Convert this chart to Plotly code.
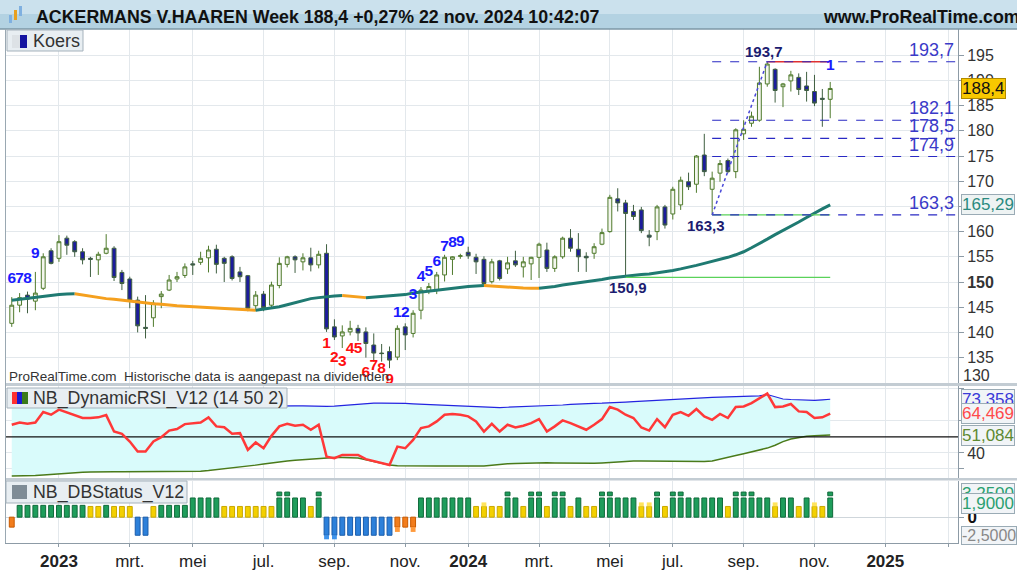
import pandas as pd
import plotly.graph_objects as go

W, H = 1017, 570
def px(x): return x / W
def py(y): return 1 - y / H

FIRST_WEEK = "2022-11-21"
X_RANGE = ["2022-11-15", "2025-03-11 16:00"]

opens = [141.8, 145.4, 147.4, 146.2, 148.75, 156.2, 154.7, 158.7, 158.0, 156.0,
         154.7, 154.4, 155.7, 156.7, 151.9, 150.6, 146.4, 141.0, 142.9, 147.1,
         148.4, 150.6, 151.3, 153.6, 153.9, 154.8, 156.5, 154.7, 155.0, 152.0,
         151.25, 145.3, 147.6, 145.4, 149.3, 153.5, 155.0, 154.0, 154.8, 153.4,
         155.7, 141.1, 139.3, 140.1, 140.8, 140.1, 137.5, 135.9, 136.2, 135.1,
         141.1, 139.8, 144.4, 148.3, 148.5, 151.4, 154.5, 155.1, 155.9, 154.9,
         154.5, 150.06, 154.2, 152.6, 154.2, 153.0, 153.6, 154.9, 156.35, 152.7,
         155.0, 158.7, 156.5, 155.1, 155.7, 157.5, 160.0, 166.5, 165.7, 164.0,
         164.3, 159.3, 160.0, 164.9, 163.5, 165.3, 169.9, 169.4, 175.2, 168.4,
         171.6, 174.1, 171.9, 179.4, 181.5, 182.1, 189.3, 192.2, 188.75, 189.9,
         190.6, 188.9, 187.8, 186.45, 186.25]
highs = [147.0, 147.8, 148.1, 152.0, 155.7, 156.7, 159.3, 159.2, 158.3, 156.7,
         155.0, 156.0, 159.5, 157.1, 152.4, 151.05, 147.1, 147.4, 146.4, 148.2,
         151.4, 152.0, 153.7, 154.2, 156.0, 157.2, 157.4, 155.0, 155.3, 153.0,
         151.4, 148.2, 148.2, 150.06, 154.9, 155.2, 155.3, 155.7, 156.8, 156.2,
         157.5, 142.6, 141.4, 142.3, 141.5, 141.0, 139.8, 137.7, 137.2, 141.4,
         141.8, 144.4, 149.0, 149.8, 152.0, 155.4, 155.1, 155.6, 157.0, 155.6,
         155.1, 154.6, 154.4, 155.0, 156.2, 155.0, 155.0, 157.8, 157.8, 155.3,
         159.0, 160.5, 159.7, 155.9, 157.7, 160.6, 167.3, 168.6, 166.3, 165.3,
         164.9, 160.3, 165.3, 165.3, 168.9, 170.9, 171.7, 175.2, 179.4, 171.9,
         174.2, 174.5, 180.5, 182.1, 183.8, 192.7, 193.7, 192.4, 189.5, 191.9,
         191.4, 191.7, 191.1, 188.3, 189.7]
lows = [141.1, 144.0, 143.8, 144.4, 148.4, 153.5, 154.0, 155.4, 155.0, 153.5,
        151.0, 151.4, 155.5, 150.2, 148.4, 144.8, 140.0, 138.8, 141.1, 144.8,
        148.2, 150.0, 150.8, 151.4, 153.4, 151.9, 151.7, 150.0, 150.3, 150.0,
        144.2, 144.2, 144.2, 144.8, 148.75, 152.9, 151.8, 152.3, 152.1, 152.7,
        140.1, 138.5, 136.9, 139.4, 138.3, 135.0, 134.2, 134.2, 132.9, 134.5,
        136.5, 139.0, 142.6, 147.6, 147.6, 150.1, 151.4, 154.6, 154.6, 151.6,
        149.4, 149.7, 150.3, 151.6, 153.0, 150.9, 150.4, 150.8, 152.0, 152.0,
        154.6, 156.0, 152.0, 152.0, 154.6, 157.3, 159.8, 164.0, 150.9, 162.3,
        159.7, 157.1, 158.3, 160.6, 162.4, 164.3, 168.25, 167.7, 171.0, 163.3,
        169.9, 171.6, 170.6, 178.2, 180.8, 181.8, 188.75, 185.6, 184.7, 187.8,
        187.1, 185.8, 184.9, 180.8, 182.5]
closes = [145.4, 146.9, 146.6, 147.8, 155.0, 153.7, 158.0, 157.3, 156.0, 154.4,
          154.5, 155.5, 156.7, 150.9, 149.7, 146.4, 141.3, 140.8, 145.8, 147.6,
          150.4, 151.05, 153.0, 153.4, 154.7, 156.35, 153.5, 153.7, 150.7, 151.05,
          144.8, 147.4, 144.9, 149.4, 153.7, 155.0, 154.4, 154.8, 153.4, 155.5,
          140.7, 139.1, 140.1, 140.8, 139.9, 137.8, 135.9, 135.8, 134.5, 140.8,
          139.5, 143.8, 148.4, 149.1, 151.4, 154.9, 155.0, 155.2, 155.2, 154.0,
          149.7, 154.0, 150.7, 153.8, 153.4, 154.0, 154.9, 157.5, 152.7, 155.0,
          158.7, 156.7, 155.0, 154.8, 157.0, 159.8, 166.8, 165.7, 163.6, 163.0,
          160.2, 158.9, 164.9, 161.3, 168.4, 170.2, 168.9, 175.0, 171.9, 170.6,
          173.5, 171.9, 180.2, 180.3, 182.9, 189.5, 193.25, 188.0, 189.3, 191.1,
          188.2, 188.0, 185.5, 186.25, 188.4]
ma = [146.4, 146.6, 146.8, 147.0, 147.2, 147.35, 147.5, 147.6, 147.65, 147.4,
      147.1, 146.9, 146.7, 146.6, 146.4, 146.2, 146.0, 145.9, 145.7, 145.6,
      145.4, 145.3, 145.2, 145.1, 145.0, 144.9, 144.8, 144.7, 144.6, 144.5,
      144.4, 144.4, 144.6, 144.8, 145.1, 145.5, 145.9, 146.3, 146.7, 146.9,
      147.1, 147.2, 147.3, 147.2, 147.0, 146.9, 147.0, 147.1, 147.2, 147.3,
      147.5, 147.8, 148.0, 148.2, 148.4, 148.6, 148.75, 148.9, 149.1, 149.2,
      149.3, 149.2, 149.0, 148.9, 148.8, 148.8, 148.75, 148.75, 148.9, 149.1,
      149.4, 149.6, 149.8, 150.0, 150.2, 150.5, 150.8, 151.0, 151.2, 151.4,
      151.5, 151.6, 151.8, 152.0, 152.3, 152.6, 152.9, 153.3, 153.7, 154.1,
      154.4, 154.9, 155.4, 156.0, 156.8, 157.6, 158.5, 159.4, 160.2, 161.0,
      161.9, 162.8, 163.7, 164.5, 165.3]

rsi = [57.5, 58.9, 58.1, 58.9, 65.4, 63.75, 66.9, 65.2, 63.75, 61.7,
       61.7, 62.1, 63.5, 53.3, 51.9, 47.1, 40.8, 40.8, 47.1, 49.8,
       53.9, 54.8, 57.9, 58.5, 58.9, 62.1, 56.5, 56.0, 51.9, 52.3,
       41.9, 46.5, 42.9, 50.6, 56.5, 58.1, 56.9, 57.5, 54.4, 57.5,
       37.7, 36.7, 38.75, 38.75, 38.75, 36.1, 35.0, 33.9, 32.5, 43.9,
       42.9, 48.1, 55.4, 56.5, 59.6, 63.75, 64.2, 63.75, 62.7, 59.6,
       53.3, 58.1, 53.3, 57.5, 55.8, 56.9, 58.5, 61.0, 53.3, 56.5,
       60.2, 58.5, 56.5, 54.4, 57.5, 61.0, 68.5, 66.9, 63.75, 61.7,
       55.8, 53.9, 61.0, 56.0, 63.75, 65.4, 63.1, 67.3, 62.7, 60.6,
       64.2, 61.7, 68.5, 68.9, 71.0, 74.2, 76.9, 68.5, 68.9, 70.4,
       65.8, 65.4, 61.7, 62.1, 64.47]
rsi_upper = [68.8, 68.8, 68.9, 68.9, 69.0, 69.0, 69.1, 69.1, 69.0, 69.0,
             68.9, 68.9, 68.8, 68.8, 68.7, 68.7, 68.6, 68.6, 68.6, 68.6,
             68.6, 68.6, 68.7, 68.7, 68.8, 68.8, 68.9, 68.9, 69.0, 69.0,
             69.1, 69.2, 69.3, 69.3, 69.4, 69.4, 69.3, 69.2, 69.0, 68.9,
             68.9, 69.1, 69.5, 70.0, 70.5, 70.8, 71.0, 71.0, 71.0, 71.0,
             70.8, 70.5, 70.3, 70.0, 69.8, 69.6, 69.4, 69.2, 69.0, 68.6,
             68.3, 68.1, 68.2, 68.4, 68.6, 68.8, 68.9, 68.9, 69.2, 69.5,
             69.8, 70.2, 70.5, 70.7, 70.8, 70.9, 71.0, 71.3, 71.6, 71.9,
             72.2, 72.4, 72.5, 72.7, 73.0, 73.3, 73.7, 74.2, 74.4, 74.5,
             74.7, 74.8, 75.0, 75.2, 75.3, 75.5, 76.3, 75.0, 73.5, 73.2,
             73.0, 72.9, 72.7, 73.0, 73.36]
rsi_lower = [25.6, 25.6, 25.7, 25.9, 26.3, 26.7, 27.0, 27.3, 27.6, 27.9,
             28.1, 28.3, 28.3, 28.3, 28.3, 28.3, 28.3, 28.3, 28.3, 28.3,
             28.3, 28.3, 28.3, 28.4, 28.6, 29.0, 29.5, 30.0, 30.5, 31.1,
             31.7, 32.4, 33.1, 33.8, 34.4, 35.0, 35.4, 35.8, 36.2, 36.6,
             36.9, 37.1, 37.1, 37.1, 36.8, 35.8, 34.8, 33.8, 32.5, 32.0,
             31.9, 31.9, 31.9, 31.9, 31.9, 31.9, 31.9, 31.9, 31.9, 31.9,
             31.9, 32.4, 33.0, 33.2, 33.4, 33.6, 33.8, 33.9, 33.9, 33.8,
             33.7, 33.6, 33.5, 33.5, 33.5, 33.8, 34.2, 34.6, 35.0, 35.0,
             35.0, 34.9, 34.8, 34.7, 34.6, 34.5, 34.5, 34.5, 34.6, 35.0,
             36.0, 37.0, 38.4, 39.5, 40.8, 42.0, 43.0, 44.8, 47.0, 48.6,
             49.6, 50.4, 50.6, 50.8, 51.08]
RSI_MID = 50

# DBStatus: one state letter per week
db_state = ("O" + "g" * 9 + "YY" + "g" + "YYY" + "BB" + "Y" + "gggg" + "GGGG" + "Y" * 7
            + "GGGG" + "Y" + "G" + "B" * 9 + "OOO" + "G" * 7 + "YYY"
            + "YGGYGGYGGYGYYGGGGGYYGYGGGGGGGYGGGGGYGGYGYYG")
db_level = {"G": 2.6, "g": 1.6, "Y": 1.45, "B": -2.45, "O": -1.35}
db_ext = {40: -3.0, 41: -3.0, 49: -2.0, 51: -2.0, 60: 2.0, 80: 2.0, 81: 2.0, 97: 2.0, 102: 2.0}
db_dot_bars = [34, 35, 39, 63, 66, 67, 69, 70, 75, 76, 82, 84, 85, 92, 93, 94, 104]
DB_DOT = (2.9, 3.4)

# TD-style counts
td_blue_bars = [0, 1, 2, 3, 49, 50, 51, 52, 53, 54, 55, 56, 57, 104]
td_blue_text = ["6", "7", "8", "9", "1", "2", "3", "4", "5", "6", "7", "8", "9", "1"]
td_blue_y = [150.6, 150.6, 150.6, 155.6, 143.8, 143.8, 147.4, 151.05, 152.0, 154.0, 157.0, 157.7, 158.0, 192.9]
td_red_bars = [40, 41, 42, 43, 44, 45, 46, 47, 48]
td_red_text = ["1", "2", "3", "4", "5", "6", "7", "8", "9"]
td_red_y = [137.7, 134.9, 134.1, 136.7, 136.7, 131.95, 133.3, 132.7, 130.6]

# swing points and retracement levels
swing_high_bar, swing_high = 96, 193.7
swing_low_bar, swing_low = 89, 163.3
old_low_bar, old_low = 78, 150.9
levels = [193.7, 182.1, 178.5, 174.9, 163.3]
level_text = ["193,7", "182,1", "178,5", "174,9", "163,3"]

price_ticks = [135, 140, 145, 150, 155, 160, 165, 170, 175, 180, 185, 190, 195]
tick_months = ["2023-01", "2023-03", "2023-05", "2023-07", "2023-09", "2023-11", "2024-01",
               "2024-03", "2024-05", "2024-07", "2024-09", "2024-11", "2025-01", "2025-03"]
tick_text = ["<b>2023</b>", "mrt.", "mei", "jul.", "sep.", "nov.", "<b>2024</b>",
             "mrt.", "mei", "jul.", "sep.", "nov.", "<b>2025</b>", ""]

n = len(closes)
dates = pd.date_range(FIRST_WEEK, periods=n, freq="7D")

def first_monday(m):
    d = pd.Timestamp(m + "-01")
    return d + pd.Timedelta(days=(7 - d.weekday()) % 7)
tick_dates = [first_monday(m) for m in tick_months]

TEAL, ORANGE = "#1f7a72", "#f5a01e"
FONT = "Liberation Sans, Arial, sans-serif"
fig = go.Figure()

# ---------------- price panel ----------------
fig.add_trace(go.Candlestick(
    x=dates, open=opens, high=highs, low=lows, close=closes,
    increasing=dict(line=dict(color="#4f7a2c", width=1), fillcolor="#f3f6ee"),
    decreasing=dict(line=dict(color="#3f5f40", width=1), fillcolor="#1c1c9c"),
    whiskerwidth=0, xaxis="x", yaxis="y", hoverinfo="skip"))

# moving average, coloured by direction
runs, seg, cur = [], [0], None
for i in range(1, n):
    d = ma[i] - ma[i - 1]
    up = cur if d == 0 else d > 0
    if cur is None:
        cur = up
    if up != cur:
        runs.append((cur, seg))
        seg, cur = [i - 1], up
    seg.append(i)
runs.append((cur, seg))
for up, idx in runs:
    fig.add_trace(go.Scatter(x=[dates[i] for i in idx], y=[ma[i] for i in idx], mode="lines",
                             line=dict(color=TEAL if up else ORANGE, width=3),
                             xaxis="x", yaxis="y", hoverinfo="skip"))

# support lines
fig.add_trace(go.Scatter(x=[dates[old_low_bar], dates[-1]], y=[old_low, old_low], mode="lines",
                         line=dict(color="#5ad25a", width=1.3), xaxis="x", yaxis="y", hoverinfo="skip"))
fig.add_trace(go.Scatter(x=[dates[swing_low_bar], dates[-1]], y=[swing_low, swing_low], mode="lines",
                         line=dict(color="#5ad25a", width=1.3), xaxis="x", yaxis="y", hoverinfo="skip"))
fig.add_trace(go.Scatter(x=[dates[swing_high_bar], dates[-1]], y=[swing_high, swing_high], mode="lines",
                         line=dict(color="#e03030", width=1.3), xaxis="x", yaxis="y", hoverinfo="skip"))
for lv in levels:
    fig.add_trace(go.Scatter(x=[dates[swing_low_bar], X_RANGE[1]], y=[lv, lv], mode="lines",
                             line=dict(color="#2a2ac4", width=1.2, dash="dash"),
                             xaxis="x", yaxis="y", hoverinfo="skip"))
fig.add_trace(go.Scatter(x=[dates[swing_low_bar], dates[swing_high_bar]], y=[swing_low, swing_high],
                         mode="lines", line=dict(color="#4848d8", width=1.5, dash="dot"),
                         xaxis="x", yaxis="y", hoverinfo="skip"))

# TD counts
fig.add_trace(go.Scatter(x=[dates[i] for i in td_blue_bars], y=td_blue_y, mode="text", text=td_blue_text,
                         textfont=dict(color="#1a1aff", size=15.5, family=FONT, weight="bold"),
                         textposition="middle center", xaxis="x", yaxis="y", hoverinfo="skip"))
fig.add_trace(go.Scatter(x=[dates[i] for i in td_red_bars], y=td_red_y, mode="text", text=td_red_text,
                         textfont=dict(color="#ff1010", size=15.5, family=FONT, weight="bold"),
                         textposition="middle center", xaxis="x", yaxis="y", hoverinfo="skip"))

# ---------------- RSI panel ----------------
fig.add_trace(go.Scatter(x=dates, y=rsi_lower, mode="lines", line=dict(width=0, color="#4a7a1a"),
                         xaxis="x", yaxis="y2", hoverinfo="skip"))
fig.add_trace(go.Scatter(x=dates, y=rsi_upper, mode="lines", line=dict(width=1.2, color="#2424e0"),
                         fill="tonexty", fillcolor="#d9fbfb", xaxis="x", yaxis="y2", hoverinfo="skip"))
fig.add_trace(go.Scatter(x=dates, y=rsi_lower, mode="lines", line=dict(width=1.5, color="#4a7a1a"),
                         xaxis="x", yaxis="y2", hoverinfo="skip"))
fig.add_trace(go.Scatter(x=[X_RANGE[0], X_RANGE[1]], y=[RSI_MID, RSI_MID], mode="lines",
                         line=dict(width=1.2, color="#111"), xaxis="x", yaxis="y2", hoverinfo="skip"))
fig.add_trace(go.Scatter(x=dates, y=rsi, mode="lines", line=dict(width=2.5, color="#ff3838"),
                         xaxis="x", yaxis="y2", hoverinfo="skip"))

# ---------------- DBStatus panel ----------------
fill_c = {"G": "#1e9d5b", "g": "#1e9d5b", "Y": "#f3d000", "B": "#2c80da", "O": "#f27d1c"}
edge_c = {"G": "#0f6a3a", "g": "#0f6a3a", "Y": "#c9a800", "B": "#1a5cab", "O": "#c85a00"}
ext_c = {"Y": "#ffe45c", "B": "#3f94ec", "O": "#ff9a3c", "G": "#5cc78b", "g": "#5cc78b"}
BW = 7 * 86400000 * 0.62
fig.add_trace(go.Bar(x=dates, y=[db_level[s] for s in db_state], width=BW,
                     marker=dict(color=[fill_c[s] for s in db_state],
                                 line=dict(color=[edge_c[s] for s in db_state], width=1)),
                     xaxis="x", yaxis="y3", hoverinfo="skip"))
ext_idx = sorted(db_ext)
fig.add_trace(go.Bar(x=[dates[i] for i in ext_idx],
                     y=[db_ext[i] - db_level[db_state[i]] for i in ext_idx],
                     base=[db_level[db_state[i]] for i in ext_idx], width=BW,
                     marker=dict(color=[ext_c[db_state[i]] for i in ext_idx], line=dict(width=0)),
                     xaxis="x", yaxis="y3", hoverinfo="skip"))
fig.add_trace(go.Bar(x=[dates[i] for i in db_dot_bars], y=[DB_DOT[1] - DB_DOT[0]] * len(db_dot_bars),
                     base=[DB_DOT[0]] * len(db_dot_bars), width=BW,
                     marker=dict(color="#1e9d5b", line=dict(color="#0f6a3a", width=1)),
                     xaxis="x", yaxis="y3", hoverinfo="skip"))

# ---------------- layout ----------------
GRID = "#e3e8ec"
AX = "#8d9ba6"
HIDDEN_TICK = 165  # covered by the moving-average value box
price_text = [("<b>%d</b>" % t) if t == 150 else ("" if t == HIDDEN_TICK else str(t)) for t in price_ticks]
fig.update_layout(
    width=W, height=H, margin=dict(l=0, r=0, t=0, b=0), autosize=False,
    paper_bgcolor="white", plot_bgcolor="white", showlegend=False, barmode="overlay",
    font=dict(family=FONT, color="#333333", size=16),
    xaxis=dict(type="date", domain=[px(5), px(958)], range=X_RANGE, anchor="y3",
               tickvals=tick_dates, ticktext=tick_text, tickfont=dict(size=17, color="#222"),
               showgrid=True, gridcolor=GRID, gridwidth=1, ticks="outside", ticklen=3, tickcolor=AX,
               showline=True, linecolor=AX, zeroline=False, rangeslider=dict(visible=False)),
    yaxis=dict(domain=[py(383), py(28)], range=[129.96, 200.4], side="right", anchor="x",
               tickvals=price_ticks, ticktext=price_text, tickfont=dict(size=16, color="#333"),
               showgrid=True, gridcolor=GRID, ticks="outside", ticklen=5, tickcolor=AX,
               showline=True, linecolor=AX, zeroline=False),
    yaxis2=dict(domain=[py(478), py(386)], range=[24.4, 81.6], side="right", anchor="x",
                tickvals=[30, 40, 60, 80], ticktext=["", "40", "", ""], tickfont=dict(size=16, color="#333"),
                showgrid=True, gridcolor=GRID, ticks="outside", ticklen=5, tickcolor=AX,
                showline=True, linecolor=AX, zeroline=False),
    yaxis3=dict(domain=[py(543), py(481)], range=[-3.5, 4.9], side="right", anchor="x",
                tickvals=[0], ticktext=["<b>0</b>"], tickfont=dict(size=17, color="#111"),
                showgrid=True, gridcolor="#cfd6db", ticks="outside", ticklen=5, tickcolor=AX,
                showline=True, linecolor=AX, zeroline=False),
)

shapes = []
def rect(x0, y0, x1, y1, fill, line=None, lw=1):
    shapes.append(dict(type="rect", xref="paper", yref="paper", x0=px(x0), x1=px(x1), y0=py(y1), y1=py(y0),
                       fillcolor=fill, line=dict(color=line or fill, width=lw if line else 0), layer="above"))
# header
rect(0, 0, W, 14, "#cbe1ed")
rect(0, 14, W, 29, "#b3d2e2")
shapes.append(dict(type="line", xref="paper", yref="paper", x0=0, x1=1, y0=py(29), y1=py(29),
                   line=dict(color="#7d97a6", width=1.5), layer="above"))
rect(9, 15, 12, 23, "#7fb0e0")
rect(14, 10, 17, 20, "#e8a020")
rect(19, 6, 22, 16, "#7fb0e0")
# panel separators and left border
rect(5, 383, W, 386, "#c3ccd3")
rect(5, 478, W, 480.5, "#c3ccd3")
shapes.append(dict(type="line", xref="paper", yref="paper", x0=px(5.5), x1=px(5.5), y0=py(543), y1=py(29),
                   line=dict(color="#9aa8b2", width=1), layer="above"))
# legend boxes
rect(7, 30, 83, 51, "#e8eef2", "#a5b2bc")
rect(12, 35, 20, 48, "#dde2e6")
rect(20, 35, 27, 48, "#1414a0")
rect(7, 388, 287, 408, "#e8eef2", "#a5b2bc")
rect(12, 392, 17, 404, "#ff3030")
rect(17, 392, 22, 404, "#1a1ad0")
rect(22, 392, 28, 404, "#3a7a1a")
rect(6, 481, 187, 503, "#e8eef2", "#a5b2bc")
rect(12, 485, 27, 499, "#7f8c96")
fig.update_layout(shapes=shapes)

ann = []
def text(x, y, s, size=17, color="#222", xanchor="left", bold=False, **kw):
    ann.append(dict(xref="paper", yref="paper", x=px(x), y=py(y), text=("<b>%s</b>" % s) if bold else s,
                    showarrow=False, xanchor=xanchor, yanchor="middle",
                    font=dict(size=size, color=color, family=FONT), **kw))
text(34, 17, "ACKERMANS V.HAAREN Week 188,4 +0,27% 22 nov. 2024 10:42:07", size=17.8, color="#111", bold=True)
text(821, 17, "www.ProRealTime.com", size=17.8, color="#111", bold=True)
text(31, 41, "Koers", size=18, color="#333")
text(31, 398, "NB_DynamicRSI_V12 (14 50 2)", size=17.8, color="#333")
text(31, 492, "NB_DBStatus_V12", size=17.8, color="#333")
text(7, 377, "ProRealTime.com  Historische data is aangepast na dividenden", size=13.5, color="#333")
text(961, 375, "130", size=16, color="#333")

# level labels at right
for lv, s in zip(levels, level_text):
    ann.append(dict(xref="paper", yref="y", x=px(956), y=lv, text=s, showarrow=False,
                    xanchor="right", yanchor="bottom", yshift=0,
                    font=dict(size=18, color="#3a3ac8", family=FONT)))
# swing labels
ann.append(dict(xref="x", yref="y", x=dates[swing_high_bar], y=swing_high, text="<b>193,7</b>", showarrow=False,
                xanchor="center", yanchor="bottom", xshift=-3, font=dict(size=15, color="#1c1c70", family=FONT)))
ann.append(dict(xref="x", yref="y", x=dates[swing_low_bar], y=swing_low, text="<b>163,3</b>", showarrow=False,
                xanchor="center", yanchor="top", xshift=-6, font=dict(size=15, color="#1c1c70", family=FONT)))
ann.append(dict(xref="x", yref="y", x=dates[old_low_bar], y=old_low, text="<b>150,9</b>", showarrow=False,
                xanchor="center", yanchor="top", xshift=2, font=dict(size=15, color="#1c1c70", family=FONT)))

# value boxes on the right axis
def vbox(y, yref, s, color, bg, border, size=17):
    ann.append(dict(xref="paper", yref=yref, x=px(961), y=y, text=s, showarrow=False, xanchor="left",
                    yanchor="middle", bgcolor=bg, bordercolor=border, borderwidth=1, borderpad=0,
                    font=dict(size=size, color=color, family=FONT)))
vbox(closes[-1], "y", "188,4", "#111", "#f8c800", "#b08a00")
vbox(ma[-1], "y", "165,29", "#2a8a80", "#eef3f3", "#9aabb5")
vbox(rsi_upper[-1], "y2", "73,358", "#3a3ad8", "#f1f4f7", "#9aabb5")
vbox(rsi[-1], "y2", "64,469", "#ff4a4a", "#f1f4f7", "#9aabb5")
vbox(rsi_lower[-1], "y2", "51,084", "#5e8a32", "#f1f4f7", "#9aabb5")
vbox(3.25, "y3", "3,2500", "#2aa070", "#f1f4f7", "#9aabb5")
vbox(1.9, "y3", "1,9000", "#2aa070", "#f1f4f7", "#9aabb5")
vbox(-2.5, "y3", "-2,5000", "#888", "#f1f4f7", "#9aabb5", size=16)
fig.update_layout(annotations=ann)

fig.write_html("out.html")
